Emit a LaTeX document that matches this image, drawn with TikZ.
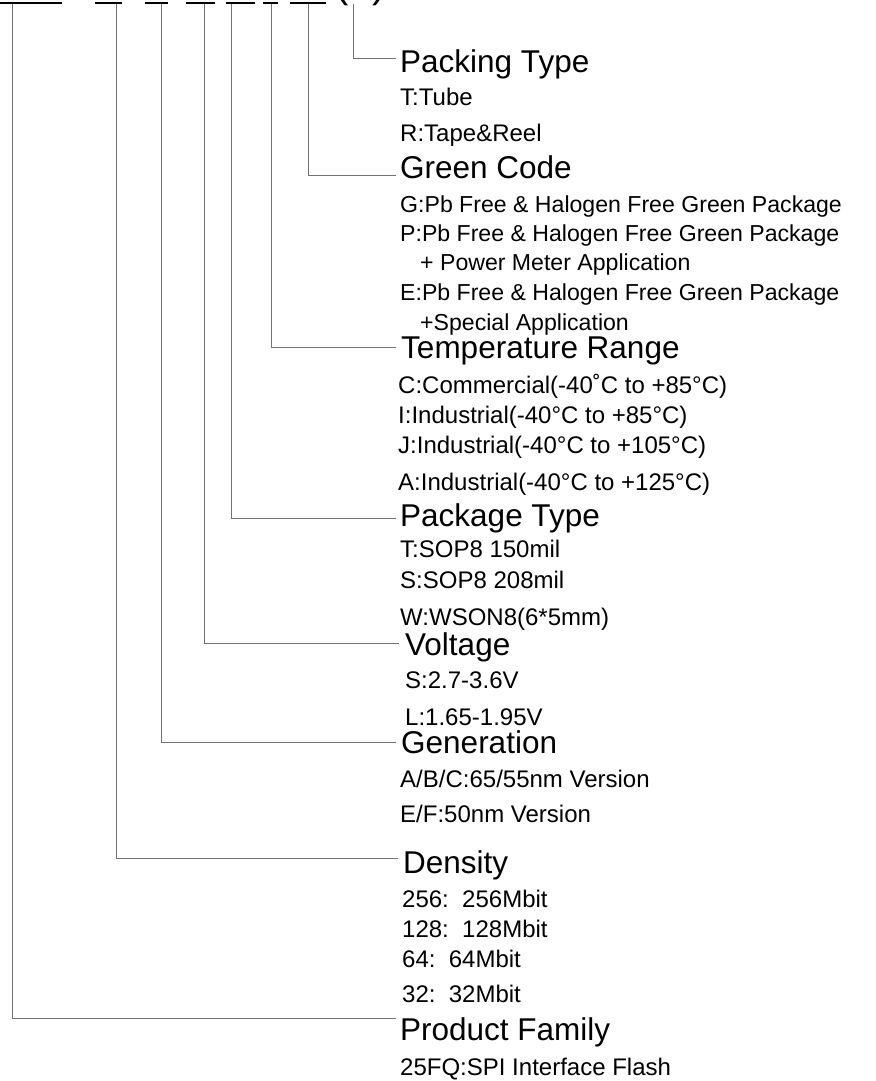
\documentclass[tikz,border=0pt]{standalone}
\usepackage{fontspec}
\setmainfont{Liberation Sans}
\begin{document}
\begin{tikzpicture}[x=1pt,y=-1pt,
  conn/.style={draw=black!55, line width=0.9pt},
  head/.style={anchor=base west, inner sep=0pt, font=\fontsize{31.5}{31.5}\selectfont},
  item/.style={anchor=base west, inner sep=0pt, font=\fontsize{24}{24}\selectfont},
  gitem/.style={item, font=\fontsize{23.1}{23.1}\selectfont},
  uline/.style={line width=2.2pt, black}]
\useasboundingbox (0,0) rectangle (875,1081);
\clip (0,0) rectangle (875,1081);

% clipped part number at the top
\foreach \a/\b in {-5/62, 95/122, 145/168, 186/215, 226/255, 263/278, 290/326}
  \draw[uline] (\a,3) -- (\b,3);
\node[anchor=base west, inner sep=0pt, font=\fontsize{40}{40}\selectfont] (paren) at (335,-2) {(\hspace{24pt})};

% tops of the connectors
\coordinate (t1) at (353,4);
\coordinate (t2) at (308,4);
\coordinate (t3) at (271,4);
\coordinate (t4) at (231,4);
\coordinate (t5) at (204,4);
\coordinate (t6) at (161,4);
\coordinate (t7) at (116,4);
\coordinate (t8) at (12,4);
% ends of the connectors
\coordinate (e1) at (396,58);
\coordinate (e2) at (396,175);
\coordinate (e3) at (396,347);
\coordinate (e4) at (396,518);
\coordinate (e5) at (399,643);
\coordinate (e6) at (396,742);
\coordinate (e7) at (398,858);
\coordinate (e8) at (396,1018);

\foreach \i in {1,...,8} \draw[conn] (t\i) |- (e\i);

% Packing Type
\node[head] (hPack) at (400,73) {Packing Type};
\node[item] (p1) at (400,105) {T:Tube};
\node[item] (p2) at (400,141) {R:Tape\&Reel};
% Green Code
\node[head] (hGreen) at (400,178) {Green Code};
\node[gitem] (g1) at (400,212) {G:Pb Free \& Halogen Free Green Package};
\node[gitem] (g2) at (400,241) {P:Pb Free \& Halogen Free Green Package};
\node[gitem] (g3) at (420,270) {+ Power Meter Application};
\node[gitem] (g4) at (400,300) {E:Pb Free \& Halogen Free Green Package};
\node[gitem] (g5) at (420,330) {+Special Application};
% Temperature Range
\node[head] (hTemp) at (401,358) {Temperature Range};
\node[item] (r1) at (398,393) {C:Commercial(-40˚C to +85°C)};
\node[item] (r2) at (398,423) {I:Industrial(-40°C to +85°C)};
\node[item] (r3) at (398,453) {J:Industrial(-40°C to +105°C)};
\node[item] (r4) at (398,490) {A:Industrial(-40°C to +125°C)};
% Package Type
\node[head] (hPkg) at (400,526) {Package Type};
\node[item] (k1) at (400,557) {T:SOP8 150mil};
\node[item] (k2) at (400,588) {S:SOP8 208mil};
\node[item] (k3) at (400,625) {W:WSON8(6*5mm)};
% Voltage
\node[head] (hVolt) at (405,655) {Voltage};
\node[item] (v1) at (405,688) {S:2.7-3.6V};
\node[item] (v2) at (405,725) {L:1.65-1.95V};
% Generation
\node[head] (hGen) at (401,753) {Generation};
\node[item] (n1) at (400,787) {A/B/C:65/55nm Version};
\node[item] (n2) at (400,822) {E/F:50nm Version};
% Density
\node[head] (hDen) at (403,873) {Density};
\node[item] (d1) at (402,907) {256:\ \ 256Mbit};
\node[item] (d2) at (402,937) {128:\ \ 128Mbit};
\node[item] (d3) at (402,967) {64:\ \ 64Mbit};
\node[item] (d4) at (402,1002) {32:\ \ 32Mbit};
% Product Family
\node[head] (hFam) at (400,1040) {Product Family};
\node[item] (f1) at (400,1075) {25FQ:SPI Interface Flash};
\end{tikzpicture}
\end{document}
